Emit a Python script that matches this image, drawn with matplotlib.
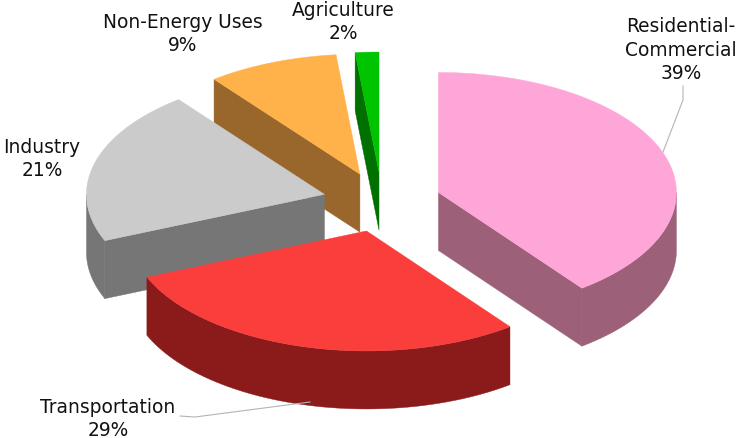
import numpy as np
import matplotlib
matplotlib.use('Agg')
import matplotlib.pyplot as plt
from matplotlib.patches import Polygon

# data, clockwise from 12 o'clock
categories = ['Residential-\nCommercial', 'Transportation', 'Industry',
              'Non-Energy Uses', 'Agriculture']
shares = [39.7, 29.0, 20.8, 8.9, 1.6]
percent_labels = ['39%', '29%', '21%', '9%', '2%']
top_colors = ['#FFA6D9', '#F93E3B', '#CBCBCB', '#FFB24A', '#00C400']
wall_colors = ['#9C6078', '#8B1A1A', '#767676', '#99662B', '#007000']

# label centre positions in pixels
label_pos = [(681, 50), (108, 419), (42, 159), (183, 34), (343, 22)]

# pie geometry in pixels
CX, CY = 382, 203
RX, RY = 238, 120
DEPTH = 58
EXPLODE = 0.25
DRAW_ORDER = [3, 4, 2, 0, 1]
LEADER = '#B4B4B4'


def rim(angle, ox, oy):
    rad = np.radians(angle)
    return ox + RX * np.sin(rad), oy - RY * np.cos(rad)


def arc(a0, a1, ox, oy):
    angles = np.linspace(a0, a1, 120)
    return np.column_stack(rim(angles, ox, oy))


def add_face(ax, pts, color):
    ax.add_patch(Polygon(pts, closed=True, facecolor=color, edgecolor=color,
                         linewidth=0.3))


fig = plt.figure(figsize=(7.38, 4.39), dpi=100)
ax = fig.add_axes([0, 0, 1, 1])
ax.set_xlim(0, 738)
ax.set_ylim(439, 0)
ax.axis('off')

# leader lines go under the slices
ax.plot([683, 683, 663], [87, 101, 153], color=LEADER, lw=0.8)
ax.plot([180, 195, 310], [417, 418, 403], color=LEADER, lw=0.8)

edges = np.cumsum([0] + shares) * 3.6

for i in DRAW_ORDER:
    a0, a1 = edges[i], edges[i + 1]
    mid = (a0 + a1) / 2
    ox, oy = rim(mid, CX, CY)
    ox = CX + (ox - CX) * EXPLODE
    oy = CY + (oy - CY) * EXPLODE
    apex = np.array([ox, oy])
    drop = np.array([0, DEPTH])

    # radial walls that face the viewer
    if 180 < a0 < 360:
        p = np.array(rim(a0, ox, oy))
        add_face(ax, [apex, p, p + drop, apex + drop], wall_colors[i])
    if 0 < a1 < 180:
        p = np.array(rim(a1, ox, oy))
        add_face(ax, [apex, p, p + drop, apex + drop], wall_colors[i])

    # outer wall, front half only
    lo, hi = max(a0, 90), min(a1, 270)
    if lo < hi:
        pts = arc(lo, hi, ox, oy)
        add_face(ax, np.vstack([pts, (pts + drop)[::-1]]), wall_colors[i])

    add_face(ax, np.vstack([apex, arc(a0, a1, ox, oy)]), top_colors[i])

for name, pct, (x, y) in zip(categories, percent_labels, label_pos):
    ax.text(x, y, f'{name}\n{pct}', ha='center', va='center',
            fontsize=13.4, color='#111111', linespacing=1.28,
            family='DejaVu Sans')

fig.savefig('out.png', dpi=100)
